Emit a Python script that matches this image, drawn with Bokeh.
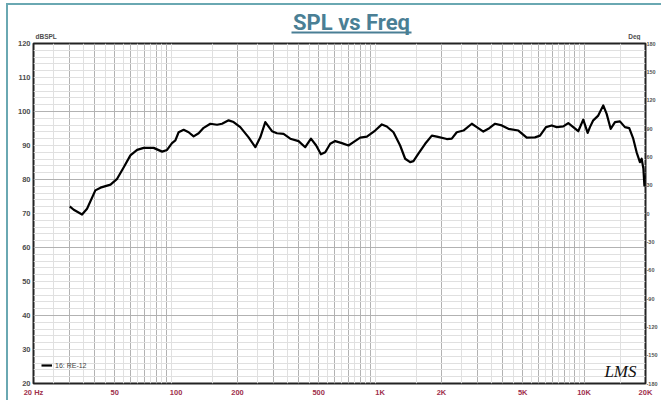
from bokeh.plotting import figure
from bokeh.layouts import column
from bokeh.models import FixedTicker, Range1d, Label, LinearAxis
from bokeh.embed import file_html
from bokeh.resources import INLINE

# ---- data ----
freq_hz = [30.1, 31.5, 34.6, 36.6, 40.2, 42.6, 47.7, 51.4, 55.4, 59.7,
           64.4, 69.4, 77.6, 85.4, 90.3, 95.5, 99.2, 102.9, 108.9, 115.2,
           121.9, 129, 136.5, 147.2, 158.8, 168, 180.9, 191.4, 206.4, 226.7,
           244.6, 258.7, 273.7, 295.2, 312.2, 336.4, 362.8, 398.4, 429.6, 458.2,
           486.2, 512.7, 538.4, 569.7, 602.6, 649.8, 700, 740.6, 798.8, 861.4,
           946, 1020, 1079, 1163, 1254, 1327, 1404, 1457, 1541, 1663,
           1793, 1897, 2124, 2246, 2376, 2562, 2816, 2978, 3208, 3394,
           3662, 3948, 4254, 4762, 5234, 5746, 6080, 6506, 6937, 7340,
           7910, 8366, 8851, 9362, 9905, 10412, 10684, 11090, 11732, 12414,
           12900, 13496, 14172, 14988, 15858, 16648, 17418, 18096, 18778, 19146,
           19530, 19752, 20000]
spl_db = [72.1, 71.1, 69.7, 71.4, 76.8, 77.6, 78.5, 80.2, 83.6, 87.1,
          88.7, 89.3, 89.3, 88.2, 88.7, 90.7, 91.5, 93.9, 94.6, 93.9,
          92.7, 93.6, 95.2, 96.4, 96.1, 96.4, 97.4, 96.9, 95.4, 92.4,
          89.5, 92.4, 96.9, 94.2, 93.6, 93.4, 92.0, 91.3, 89.5, 92.0,
          90.0, 87.4, 88.0, 90.5, 91.3, 90.7, 90.0, 91.0, 92.3, 92.6,
          94.4, 96.2, 95.6, 93.9, 90.0, 86.1, 85.1, 85.4, 87.6, 90.5,
          92.9, 92.6, 91.9, 92.0, 93.9, 94.4, 96.4, 95.4, 94.1, 94.9,
          96.4, 95.9, 94.9, 94.4, 92.3, 92.4, 92.9, 95.4, 95.9, 95.4,
          95.6, 96.6, 95.4, 94.2, 97.6, 93.7, 95.4, 97.4, 98.8, 101.8,
          99.3, 94.9, 96.9, 97.1, 95.4, 95.1, 92.0, 88.0, 85.1, 86.1,
          83.2, 78.2, 81.2]
series_name = "16: RE-12"

x_ticks = [20, 50, 100, 200, 500, 1000, 2000, 5000, 10000, 20000]
x_tick_labels = ["20 Hz", "50", "100", "200", "500", "1K", "2K", "5K", "10K", "20K"]
y_ticks = [20, 30, 40, 50, 60, 70, 80, 90, 100, 110, 120]
deg_ticks = [180, 150, 120, 90, 60, 30, 0, -30, -60, -90, -120, -150, -180]
deg_labels = ["180", "150", "120", "90", "60", "30", "0", "-30", "-60", "-90", "-120", "-150", "-180"]

FMIN, FMAX = 20, 20000
YMIN, YMAX = 20, 120
DMIN, DMAX = -180, 180

TEAL = "#6aa8b2"
TITLE_C = "#4a7f95"
LABEL_C = "#4d4d4d"
XLAB_C = "#a0304c"
AXFONT = "Liberation Sans"

W = 653           # content width (page has 8px on the left)
HEAD_H = 35       # header strip height
MAIN_H = 360
B_LEFT, B_RIGHT = 25, 16   # borders of the main chart frame

# ---------------- header strip (title, unit labels) ----------------
# the column aligns this strip's frame with the chart frame below,
# so its x coordinates are pixels measured from the chart's left edge
head = figure(width=W, height=HEAD_H, x_range=Range1d(B_LEFT, W - B_RIGHT),
              y_range=Range1d(HEAD_H, 0),
              x_axis_location=None, y_axis_location=None,
              output_backend="svg", toolbar_location=None,
              min_border=0, outline_line_color=None,
              background_fill_color="white", border_fill_color="white")
head.xgrid.grid_line_color = None
head.ygrid.grid_line_color = None

TITLE_X, TITLE_MID, TITLE_W, UNDER_Y = 343, 16.5, 120, 27
head.add_layout(Label(x=TITLE_X, y=TITLE_MID, text="SPL vs Freq",
                      text_align="center", text_baseline="middle",
                      text_font="Roboto", text_font_style="bold",
                      text_font_size="22px", text_color=TITLE_C))
head.segment(x0=[TITLE_X - TITLE_W / 2], y0=[UNDER_Y],
             x1=[TITLE_X + TITLE_W / 2], y1=[UNDER_Y],
             line_color=TITLE_C, line_width=2)
head.add_layout(Label(x=27, y=31, text="dBSPL", text_align="left",
                      text_baseline="middle", text_font=AXFONT,
                      text_font_style="bold", text_font_size="6.5px", text_color=LABEL_C))
head.add_layout(Label(x=632, y=31, text="Deg", text_align="right",
                      text_baseline="middle", text_font=AXFONT,
                      text_font_style="bold", text_font_size="6.5px", text_color=LABEL_C))

# ---------------- main chart ----------------
p = figure(width=W, height=MAIN_H, x_axis_type="log",
           x_range=Range1d(FMIN, FMAX), y_range=Range1d(YMIN, YMAX),
           output_backend="svg", toolbar_location=None,
           min_border_left=B_LEFT, min_border_right=B_RIGHT,
           min_border_top=3, min_border_bottom=17,
           background_fill_color="white", border_fill_color="white",
           outline_line_color="#222222", outline_line_width=2)
p.extra_y_ranges = {"deg": Range1d(DMIN, DMAX)}

# grids
x_major_grid = [m * d for d in (10, 100, 1000) for m in range(2, 10)] + [10000, 20000]
x_minor_grid = [m * d / 2 for d in (10, 100, 1000, 10000) for m in range(3, 20, 2)]
x_minor_grid = [v for v in x_minor_grid if FMIN < v < FMAX]
p.xgrid.ticker = FixedTicker(ticks=x_major_grid, minor_ticks=x_minor_grid)
p.xgrid.grid_line_color = "#b2b2b2"
p.xgrid.minor_grid_line_color = "#e0e0e0"
p.ygrid.ticker = FixedTicker(ticks=[v for v in y_ticks if v % 20 == 0],
                             minor_ticks=[v for v in range(22, 120, 2) if v % 20])
p.ygrid.grid_line_color = "#b2b2b2"
p.ygrid.minor_grid_line_color = "#e0e0e0"

# axes
deg_axis = LinearAxis(y_range_name="deg")
p.add_layout(deg_axis, "right")

for ax in (p.xaxis[0], p.yaxis[0], deg_axis):
    ax.axis_line_color = None
    ax.major_tick_line_color = None
    ax.minor_tick_line_color = None
    ax.major_tick_out = 0
    ax.major_tick_in = 0
    ax.minor_tick_out = 0
    ax.minor_tick_in = 0
    ax.axis_label_standoff = 0
    ax.major_label_text_font = AXFONT
    ax.major_label_text_font_style = "bold"

p.xaxis.ticker = FixedTicker(ticks=x_ticks)
p.xaxis.major_label_overrides = dict(zip(x_ticks, x_tick_labels))
p.xaxis.major_label_text_font_size = "7.5px"
p.xaxis.major_label_text_color = XLAB_C
p.xaxis.major_label_standoff = 4

p.yaxis[0].ticker = FixedTicker(ticks=y_ticks)
p.yaxis[0].major_label_text_font_size = "7.5px"
p.yaxis[0].major_label_text_color = LABEL_C
p.yaxis[0].major_label_standoff = 3

deg_axis.ticker = FixedTicker(ticks=deg_ticks)
deg_axis.major_label_overrides = dict(zip(deg_ticks, deg_labels))
deg_axis.major_label_text_font_size = "5.5px"
deg_axis.major_label_text_color = "#555555"
deg_axis.major_label_standoff = 1

# LMS mark
p.add_layout(Label(x=FMAX, y=YMIN, x_offset=-9, y_offset=3, text="LMS",
                   text_align="right", text_baseline="bottom",
                   text_font="Liberation Serif", text_font_style="italic",
                   text_font_size="17px", text_color="#111111"))

# curve
p.line(freq_hz, spl_db, line_color="black", line_width=2.2, line_join="round",
       legend_label=series_name)

lg = p.legend[0]
lg.location = (8, 14)
lg.margin = 0
lg.padding = 0
lg.spacing = 0
lg.border_line_color = None
lg.background_fill_alpha = 0
lg.glyph_width = 11
lg.glyph_height = 8
lg.label_height = 8
lg.label_standoff = 3
lg.label_text_font = AXFONT
lg.label_text_font_size = "7px"
lg.label_text_color = "#444444"

page = column(head, p, spacing=0)
page.styles = {"margin-left": "8px", "margin-top": "5px", "outline": "2px solid " + TEAL}

open("out.html", "w").write(file_html(page, INLINE))
